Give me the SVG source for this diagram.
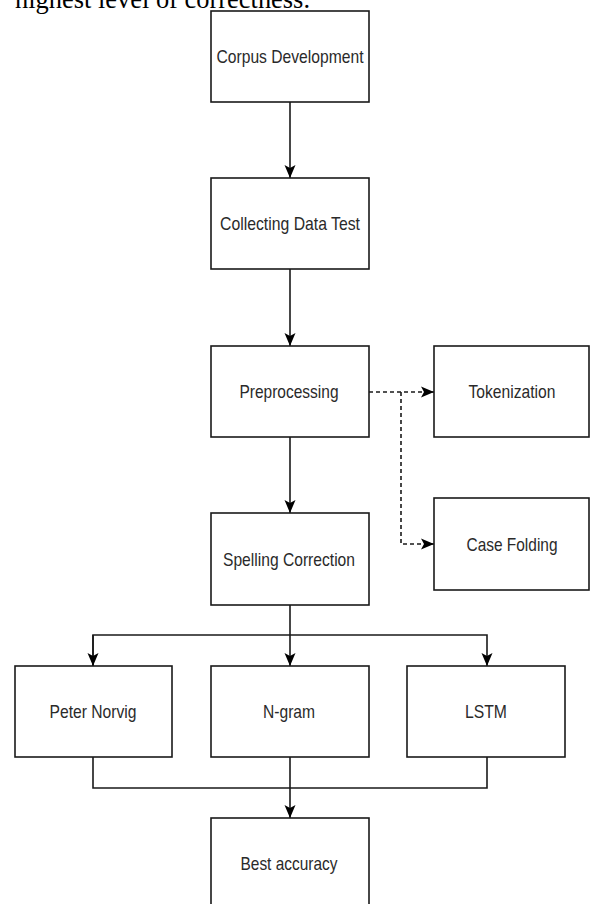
<svg xmlns="http://www.w3.org/2000/svg" width="590" height="904" viewBox="0 0 590 904">
<style>
.box{fill:#fff;stroke:#1a1a1a;stroke-width:1.6}
.lbl{font-family:"Liberation Sans",Arial,sans-serif;font-size:19px;fill:#2a2a2a;text-anchor:middle}
.ln{fill:none;stroke:#1a1a1a;stroke-width:1.6}
.dash{stroke-dasharray:4 3}
.cap{font-family:"Liberation Serif","Times New Roman",serif;font-size:26.5px;fill:#000}
</style>
<defs>
<marker id="ah" markerUnits="userSpaceOnUse" markerWidth="14" markerHeight="14" viewBox="0 0 14 14" refX="13" refY="7" orient="auto">
<path d="M0,1.5 L13,7 L0,12.5 L3,7 Z" fill="#000"/>
</marker>
</defs>
<rect width="590" height="904" fill="#fff"/>
<text class="cap" x="15" y="7.5" textLength="295" lengthAdjust="spacingAndGlyphs">highest level of correctness.</text>
<g id="connectors">
<path class="ln" d="M290,102 V178" marker-end="url(#ah)"/>
<path class="ln" d="M290,269 V346" marker-end="url(#ah)"/>
<path class="ln" d="M290,437 V513" marker-end="url(#ah)"/>
<path class="ln dash" d="M369,392 H434" marker-end="url(#ah)"/>
<path class="ln dash" d="M401,392 V544 H434" marker-end="url(#ah)"/>
<path class="ln" d="M290,605 V666" marker-end="url(#ah)"/>
<path class="ln" d="M93,666 V635 H487 V666" marker-end="url(#ah)"/>
<path class="ln" d="M93,635 V666" marker-end="url(#ah)"/>
<path class="ln" d="M93,757 V788 H487 V757"/>
<path class="ln" d="M290,757 V818" marker-end="url(#ah)"/>
</g>
<g id="corpus"><rect class="box" x="211" y="11" width="158" height="91"/><text class="lbl" x="290" y="63" textLength="147" lengthAdjust="spacingAndGlyphs">Corpus Development</text></g>
<g id="collecting"><rect class="box" x="211" y="178" width="158" height="91"/><text class="lbl" x="290" y="230" textLength="140" lengthAdjust="spacingAndGlyphs">Collecting Data Test</text></g>
<g id="preprocessing"><rect class="box" x="211" y="346" width="158" height="91"/><text class="lbl" x="289" y="398" textLength="99" lengthAdjust="spacingAndGlyphs">Preprocessing</text></g>
<g id="tokenization"><rect class="box" x="434" y="346" width="155" height="91"/><text class="lbl" x="512" y="398" textLength="87" lengthAdjust="spacingAndGlyphs">Tokenization</text></g>
<g id="casefolding"><rect class="box" x="434" y="498" width="155" height="92"/><text class="lbl" x="512" y="550.5" textLength="91" lengthAdjust="spacingAndGlyphs">Case Folding</text></g>
<g id="spelling"><rect class="box" x="211" y="513" width="158" height="92"/><text class="lbl" x="289" y="565.5" textLength="132" lengthAdjust="spacingAndGlyphs">Spelling Correction</text></g>
<g id="norvig"><rect class="box" x="15" y="666" width="157" height="91"/><text class="lbl" x="93" y="718" textLength="87" lengthAdjust="spacingAndGlyphs">Peter Norvig</text></g>
<g id="ngram"><rect class="box" x="211" y="666" width="158" height="91"/><text class="lbl" x="289" y="718" textLength="52" lengthAdjust="spacingAndGlyphs">N-gram</text></g>
<g id="lstm"><rect class="box" x="407" y="666" width="158" height="91"/><text class="lbl" x="486" y="718" textLength="42" lengthAdjust="spacingAndGlyphs">LSTM</text></g>
<g id="best"><rect class="box" x="211" y="818" width="158" height="100"/><text class="lbl" x="289" y="869.5" textLength="97" lengthAdjust="spacingAndGlyphs">Best accuracy</text></g>
</svg>
